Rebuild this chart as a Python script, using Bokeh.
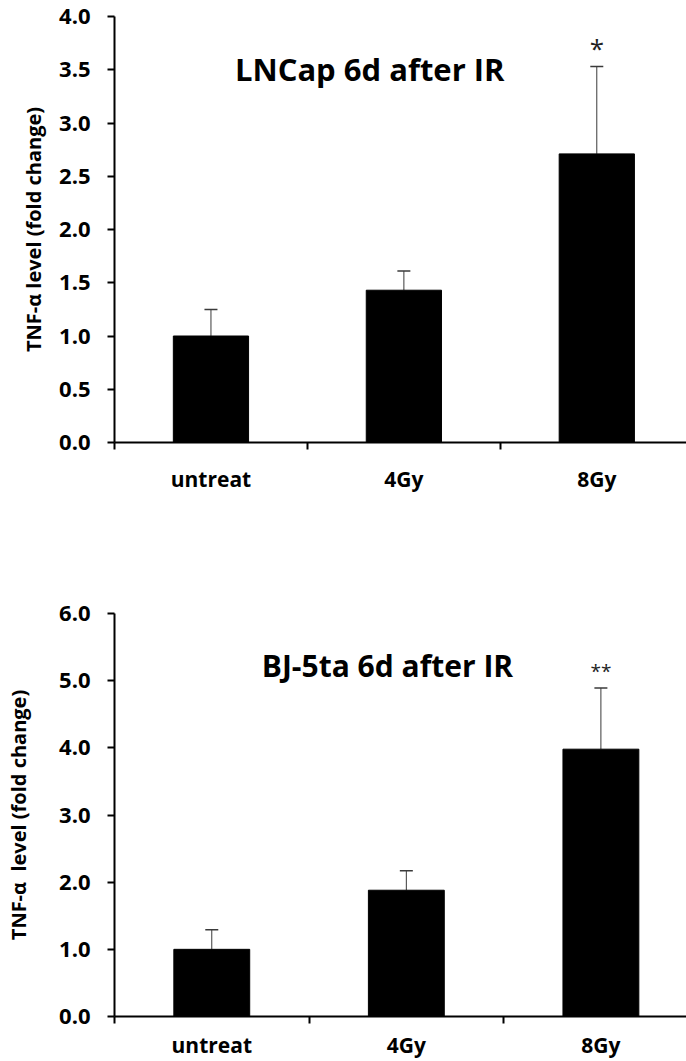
from bokeh.plotting import figure
from bokeh.layouts import column
from bokeh.models import (FixedTicker, NumeralTickFormatter, Whisker, TeeHead,
                          ColumnDataSource, Label)
from bokeh.core.properties import value
from bokeh.embed import file_html
from bokeh.resources import INLINE

# ---------------- data ----------------
categories = ["untreat", "4Gy", "8Gy"]

lncap_title = "LNCap 6d after IR"
lncap_mean = [1.0, 1.43, 2.71]
lncap_upper = [1.25, 1.61, 3.53]
lncap_sig = ["", "", "*"]
lncap_yticks = [0.0, 0.5, 1.0, 1.5, 2.0, 2.5, 3.0, 3.5, 4.0]
lncap_ylabel = "TNF-\u03b1 level (fold change)"

bj_title = "BJ-5ta 6d after IR"
bj_mean = [1.0, 1.88, 3.98]
bj_upper = [1.29, 2.17, 4.89]
bj_sig = ["", "", "**"]
bj_yticks = [0.0, 1.0, 2.0, 3.0, 4.0, 5.0, 6.0]
bj_ylabel = "TNF-\u03b1\u00a0 level (fold change)"

FONT = "Open Sans"


def make_panel(title, means, uppers, sig, yticks, ylabel, height, top, bottom,
               left, xend, title_xy, label_standoff, sig_size, sig_offset,
               x_standoff, title_size):
    xs = list(range(len(categories)))
    src = ColumnDataSource(dict(x=xs, top=means, upper=uppers, sig=sig))
    p = figure(width=686, height=height, output_backend="svg",
               toolbar_location=None, x_range=(-0.5, xend),
               y_range=(yticks[0], yticks[-1]),
               min_border_top=top, min_border_bottom=bottom,
               min_border_left=left, min_border_right=0)
    p.outline_line_color = None
    p.grid.visible = False
    p.background_fill_color = "white"
    p.border_fill_color = "white"

    p.vbar(x="x", top="top", bottom=0, width=0.39, source=src,
           fill_color="black", line_color="black")

    w = Whisker(base="x", lower="top", upper="upper", source=src,
                dimension="height", line_color="#3a3a3a", line_width=1,
                upper_head=TeeHead(size=13, line_color="#3a3a3a", line_width=1.5),
                lower_head=None, level="underlay")
    p.add_layout(w)

    p.text(x="x", y="upper", text="sig", source=src, text_align="center",
           text_baseline="middle", y_offset=sig_offset, text_font=value(FONT),
           text_font_size=sig_size, text_color="#222222")

    p.add_layout(Label(x=title_xy[0], y=title_xy[1], text=title,
                       text_align="center", text_baseline="middle",
                       text_font=FONT, text_font_style="bold",
                       text_font_size=title_size, text_color="black"))

    # x axis
    xa = p.xaxis[0]
    xa.ticker = FixedTicker(ticks=xs, minor_ticks=[-0.5, 0.5, 1.5])
    xa.major_label_overrides = {i: c for i, c in enumerate(categories)}
    xa.major_tick_out = 0
    xa.major_tick_in = 0
    xa.minor_tick_out = 7
    xa.minor_tick_in = 0
    xa.minor_tick_line_width = 2
    xa.axis_line_width = 2
    xa.major_label_text_font = FONT
    xa.major_label_text_font_style = "bold"
    xa.major_label_text_font_size = "21px"
    xa.major_label_text_color = "black"
    xa.major_label_standoff = x_standoff

    # y axis
    ya = p.yaxis[0]
    ya.ticker = FixedTicker(ticks=yticks)
    ya.formatter = NumeralTickFormatter(format="0.0")
    ya.major_tick_out = 7
    ya.major_tick_in = 0
    ya.minor_tick_out = 0
    ya.major_tick_line_width = 2
    ya.axis_line_width = 2
    ya.major_label_text_font = FONT
    ya.major_label_text_font_style = "bold"
    ya.major_label_text_font_size = "22px"
    ya.major_label_text_color = "black"
    ya.major_label_standoff = 17
    ya.axis_label = ylabel
    ya.axis_label_text_font = FONT
    ya.axis_label_text_font_style = "bold"
    ya.axis_label_text_font_size = "20px"
    ya.axis_label_text_color = "black"
    ya.axis_label_standoff = label_standoff
    return p


p1 = make_panel(lncap_title, lncap_mean, lncap_upper, lncap_sig, lncap_yticks,
                lncap_ylabel, height=500, top=16, bottom=58, left=114,
                xend=2.465, title_xy=(0.823, 3.51), label_standoff=9,
                sig_size="26px", sig_offset=-19, x_standoff=15,
                title_size="31px")
p2 = make_panel(bj_title, bj_mean, bj_upper, bj_sig, bj_yticks, bj_ylabel,
                height=561, top=113, bottom=45, left=110, xend=2.44,
                title_xy=(0.903, 5.22), label_standoff=24, sig_size="19px",
                sig_offset=-17, x_standoff=7, title_size="30px")

layout = column(p1, p2, spacing=0)
open("out.html", "w").write(file_html(layout, INLINE))
